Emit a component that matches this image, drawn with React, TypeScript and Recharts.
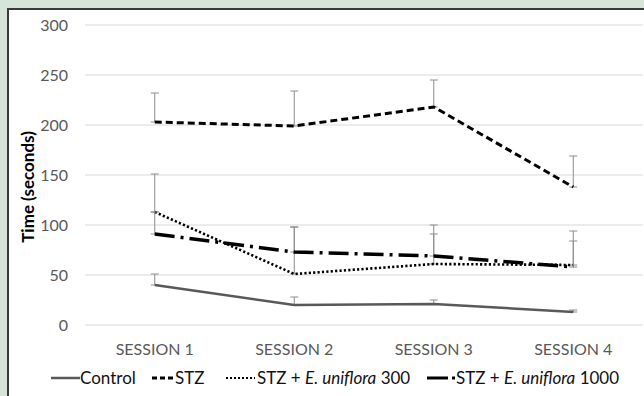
import { LineChart, Line, XAxis, YAxis, CartesianGrid, ErrorBar, Label } from 'recharts'

const sessions = ['SESSION 1', 'SESSION 2', 'SESSION 3', 'SESSION 4']
const control = [40, 20, 21, 13]
const controlErr = [11, 8, 4, 2]
const stz = [203, 199, 218, 138]
const stzErr = [29, 35, 27, 31]
const uniflora300 = [113, 51, 61, 60]
const uniflora300Err = [38, 47, 39, 34]
const uniflora1000 = [91, 73, 69, 58]
const uniflora1000Err = [22, 25, 22, 26]
const yTicks = [0, 50, 100, 150, 200, 250, 300]

const data = sessions.map((session, i) => ({
  session,
  control: control[i],
  controlErr: [0, controlErr[i]],
  stz: stz[i],
  stzErr: [0, stzErr[i]],
  u300: uniflora300[i],
  u300Err: [0, uniflora300Err[i]],
  u1000: uniflora1000[i],
  u1000Err: [0, uniflora1000Err[i]],
}))

const FONT = 'Lato, "Open Sans", sans-serif'
const ERR = '#8c8c8c'

function XTick({ x, y, payload }: any) {
  return (
    <text x={x} y={y + 22} textAnchor="middle" fill="#595959" fontSize={16} fontFamily={FONT}>
      {payload.value}
    </text>
  )
}

function YTitle({ viewBox }: any) {
  const cx = 27
  const cy = viewBox.y + viewBox.height / 2 + 12
  return (
    <text
      x={cx}
      y={cy}
      transform={`rotate(-90, ${cx}, ${cy})`}
      textAnchor="middle"
      dominantBaseline="central"
      fontSize={17}
      fontWeight="bold"
      fontFamily={FONT}
      fill="#000"
    >
      Time (seconds)
    </text>
  )
}

function LegendRow() {
  const txt = { position: 'absolute' as const, top: 367, fontSize: 17, fontFamily: FONT, color: '#111', whiteSpace: 'nowrap' as const }
  const sample = (left: number, w: number, el: any) => (
    <svg style={{ position: 'absolute', left, top: 372 }} width={w} height={12}>
      {el}
    </svg>
  )
  return (
    <>
      {sample(51, 29, <line x1={0} y1={6} x2={29} y2={6} stroke="#595959" strokeWidth={2.5} />)}
      <span style={{ ...txt, left: 80 }}>Control</span>
      {sample(152, 21, <line x1={0} y1={6} x2={21} y2={6} stroke="#000" strokeWidth={3} strokeDasharray="5 3" />)}
      <span style={{ ...txt, left: 175 }}>STZ</span>
      {sample(226, 29, <line x1={0} y1={6} x2={29} y2={6} stroke="#000" strokeWidth={2} strokeDasharray="2 2" />)}
      <span style={{ ...txt, left: 257 }}>
        STZ + <i>E. uniflora</i> 300
      </span>
      {sample(
        427,
        28,
        <>
          <line x1={0} y1={6} x2={21} y2={6} stroke="#000" strokeWidth={3} />
          <line x1={25} y1={6} x2={28} y2={6} stroke="#000" strokeWidth={3} />
        </>
      )}
      <span style={{ ...txt, left: 456 }}>
        STZ + <i>E. uniflora</i> 1000
      </span>
    </>
  )
}

export default function App() {
  return (
    <div style={{ position: 'absolute', left: 0, top: 0, width: 644, height: 396, background: '#d6e4da', overflow: 'hidden' }}>
      <div
        style={{
          position: 'absolute',
          left: 7,
          top: 8,
          width: 640,
          height: 400,
          background: '#fff',
          borderLeft: '2px solid #3a3a3a',
          borderTop: '2px solid #3a3a3a',
        }}
      />
      <div style={{ position: 'absolute', left: 0, top: 0 }}>
        <LineChart width={644} height={396} data={data} margin={{ top: 25, right: 1, bottom: 41, left: 0 }}>
          <CartesianGrid vertical={false} stroke="#d9d9d9" strokeWidth={1} />
          <XAxis
            dataKey="session"
            scale="band"
            axisLine={false}
            tickLine={false}
            height={30}
            tick={<XTick />}
            interval={0}
          />
          <YAxis
            domain={[0, 300]}
            allowDataOverflow
            ticks={yTicks}
            width={85}
            axisLine={false}
            tickLine={false}
            tickSize={0}
            tickMargin={17}
            tick={{ fill: '#595959', fontSize: 16, fontFamily: FONT }}
          >
            <Label content={<YTitle />} />
          </YAxis>
          <Line dataKey="control" stroke="#595959" strokeWidth={2.5} dot={false} isAnimationActive={false}>
            <ErrorBar dataKey="controlErr" direction="y" width={4} stroke={ERR} strokeWidth={1} isAnimationActive={false} />
          </Line>
          <Line dataKey="stz" stroke="#000" strokeWidth={3} strokeDasharray="7 4" dot={false} isAnimationActive={false}>
            <ErrorBar dataKey="stzErr" direction="y" width={4} stroke={ERR} strokeWidth={1} isAnimationActive={false} />
          </Line>
          <Line dataKey="u300" stroke="#000" strokeWidth={2.6} strokeDasharray="2.2 2.2" dot={false} isAnimationActive={false}>
            <ErrorBar dataKey="u300Err" direction="y" width={4} stroke={ERR} strokeWidth={1} isAnimationActive={false} />
          </Line>
          <Line dataKey="u1000" stroke="#000" strokeWidth={3.5} strokeDasharray="20 6 3 6" dot={false} isAnimationActive={false}>
            <ErrorBar dataKey="u1000Err" direction="y" width={4} stroke={ERR} strokeWidth={1} isAnimationActive={false} />
          </Line>
        </LineChart>
      </div>
      <LegendRow />
    </div>
  )
}
